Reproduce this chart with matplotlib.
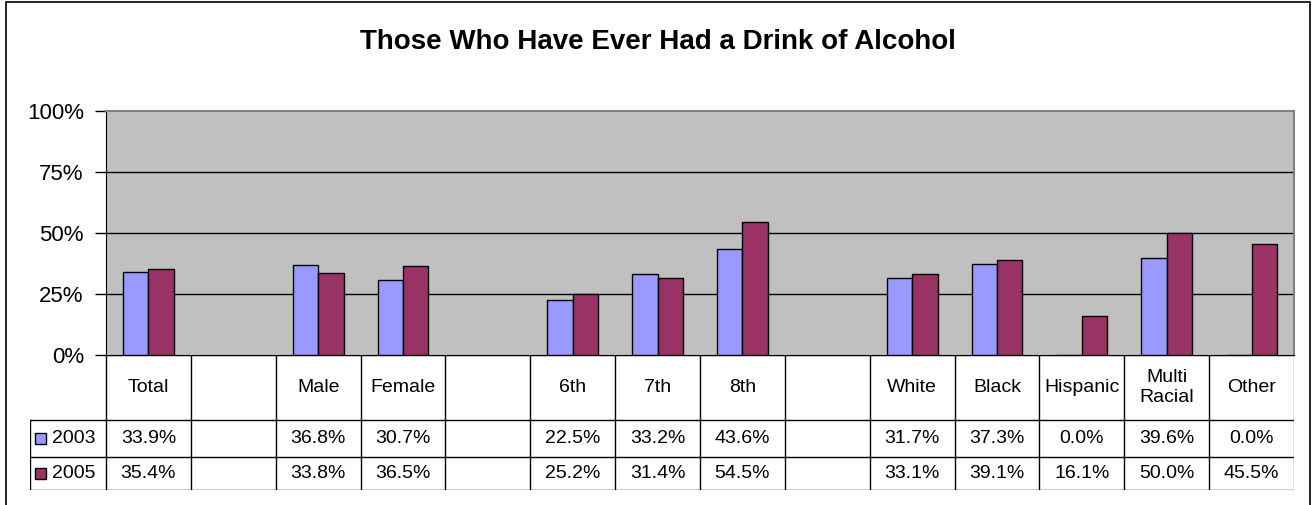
import numpy as np
import matplotlib
matplotlib.use("Agg")
import matplotlib.pyplot as plt
from matplotlib.patches import Rectangle

# data
categories = ["Total", "", "Male", "Female", "", "6th", "7th", "8th", "",
              "White", "Black", "Hispanic", "Multi\nRacial", "Other"]
years = ["2003", "2005"]
values_2003 = [33.9, None, 36.8, 30.7, None, 22.5, 33.2, 43.6, None,
               31.7, 37.3, 0.0, 39.6, 0.0]
values_2005 = [35.4, None, 33.8, 36.5, None, 25.2, 31.4, 54.5, None,
               33.1, 39.1, 16.1, 50.0, 45.5]
colors = ["#9999FF", "#993366"]
yticks = [0, 25, 50, 75, 100]

plt.rcParams["font.family"] = ["Liberation Sans", "DejaVu Sans"]

W, H = 1314, 505
fig = plt.figure(figsize=(W / 100, H / 100), dpi=100)

# outer chart border
fig.add_artist(Rectangle((6 / W, -0.01), (1310 - 6) / W, 1.01 - 2 / H,
                         transform=fig.transFigure, fill=False,
                         edgecolor="black", linewidth=1.2))

fig.text(658 / W, 1 - 42 / H, "Those Who Have Ever Had a Drink of Alcohol",
         ha="center", va="center", fontsize=20, fontweight="bold")

# plot area
left, right, top, bottom = 106, 1294, 111, 355
ax = fig.add_axes([left / W, (H - bottom) / H, (right - left) / W, (bottom - top) / H])
ax.set_facecolor("#C0C0C0")

x = np.arange(len(categories))
v03 = np.array([np.nan if v is None else v for v in values_2003])
v05 = np.array([np.nan if v is None else v for v in values_2005])
bw = 0.3
ax.bar(x - bw / 2, v03, width=bw, color=colors[0], edgecolor="black", linewidth=1, zorder=3)
ax.bar(x + bw / 2, v05, width=bw, color=colors[1], edgecolor="black", linewidth=1, zorder=3)

ax.set_xlim(-0.5, len(categories) - 0.5)
ax.set_ylim(0, 100)
ax.set_yticks(yticks)
ax.set_yticklabels([f"{t}%" for t in yticks], fontsize=16)
ax.tick_params(axis="y", length=8, width=1, pad=8, direction="out")
ax.set_xticks([])
for t in yticks[1:-1]:
    ax.axhline(t, color="black", linewidth=1, zorder=1)
for side in ["top", "right"]:
    ax.spines[side].set_color("#808080")
    ax.spines[side].set_linewidth(1.5)
ax.spines["left"].set_color("black")
ax.spines["bottom"].set_color("black")

# data table below the plot
col_px = (right - left) / len(categories)
tleft, tbottom = 30, 490
x_left = -0.5 - (left - tleft) / col_px
axt = fig.add_axes([tleft / W, (H - tbottom) / H, (right - tleft) / W, (tbottom - bottom) / H])
axt.set_xlim(x_left, len(categories) - 0.5)
axt.set_ylim(tbottom - bottom, 0)
axt.axis("off")

r1, r2, r3 = 65, 102, 135
lc = "black"
lw = 1
# horizontal rules
axt.plot([-0.5, len(categories) - 0.5], [0, 0], color=lc, lw=lw)
for yy in (r1, r2, r3):
    axt.plot([x_left, len(categories) - 0.5], [yy, yy], color=lc, lw=lw)
# vertical rules
axt.plot([x_left, x_left], [r1, r3], color=lc, lw=lw)
for i in range(len(categories) + 1):
    xb = i - 0.5
    axt.plot([xb, xb], [0, r3], color="#808080" if i == len(categories) else lc, lw=lw)

for i, c in enumerate(categories):
    axt.text(i, r1 / 2, c, ha="center", va="center", fontsize=14, linespacing=1.2)
    for vals, yc in ((values_2003, (r1 + r2) / 2), (values_2005, (r2 + r3) / 2)):
        if vals[i] is not None:
            axt.text(i, yc, f"{vals[i]:.1f}%", ha="center", va="center", fontsize=14)

# legend keys in the table
sq = 11 / col_px
for yr, colr, yc in zip(years, colors, ((r1 + r2) / 2, (r2 + r3) / 2)):
    axt.add_patch(Rectangle((x_left + 5 / col_px, yc - 5.5), sq, 11, facecolor=colr,
                            edgecolor="black", linewidth=1))
    axt.text(x_left + 22 / col_px, yc, yr, ha="left", va="center", fontsize=14)

fig.savefig("out.png", dpi=100)
